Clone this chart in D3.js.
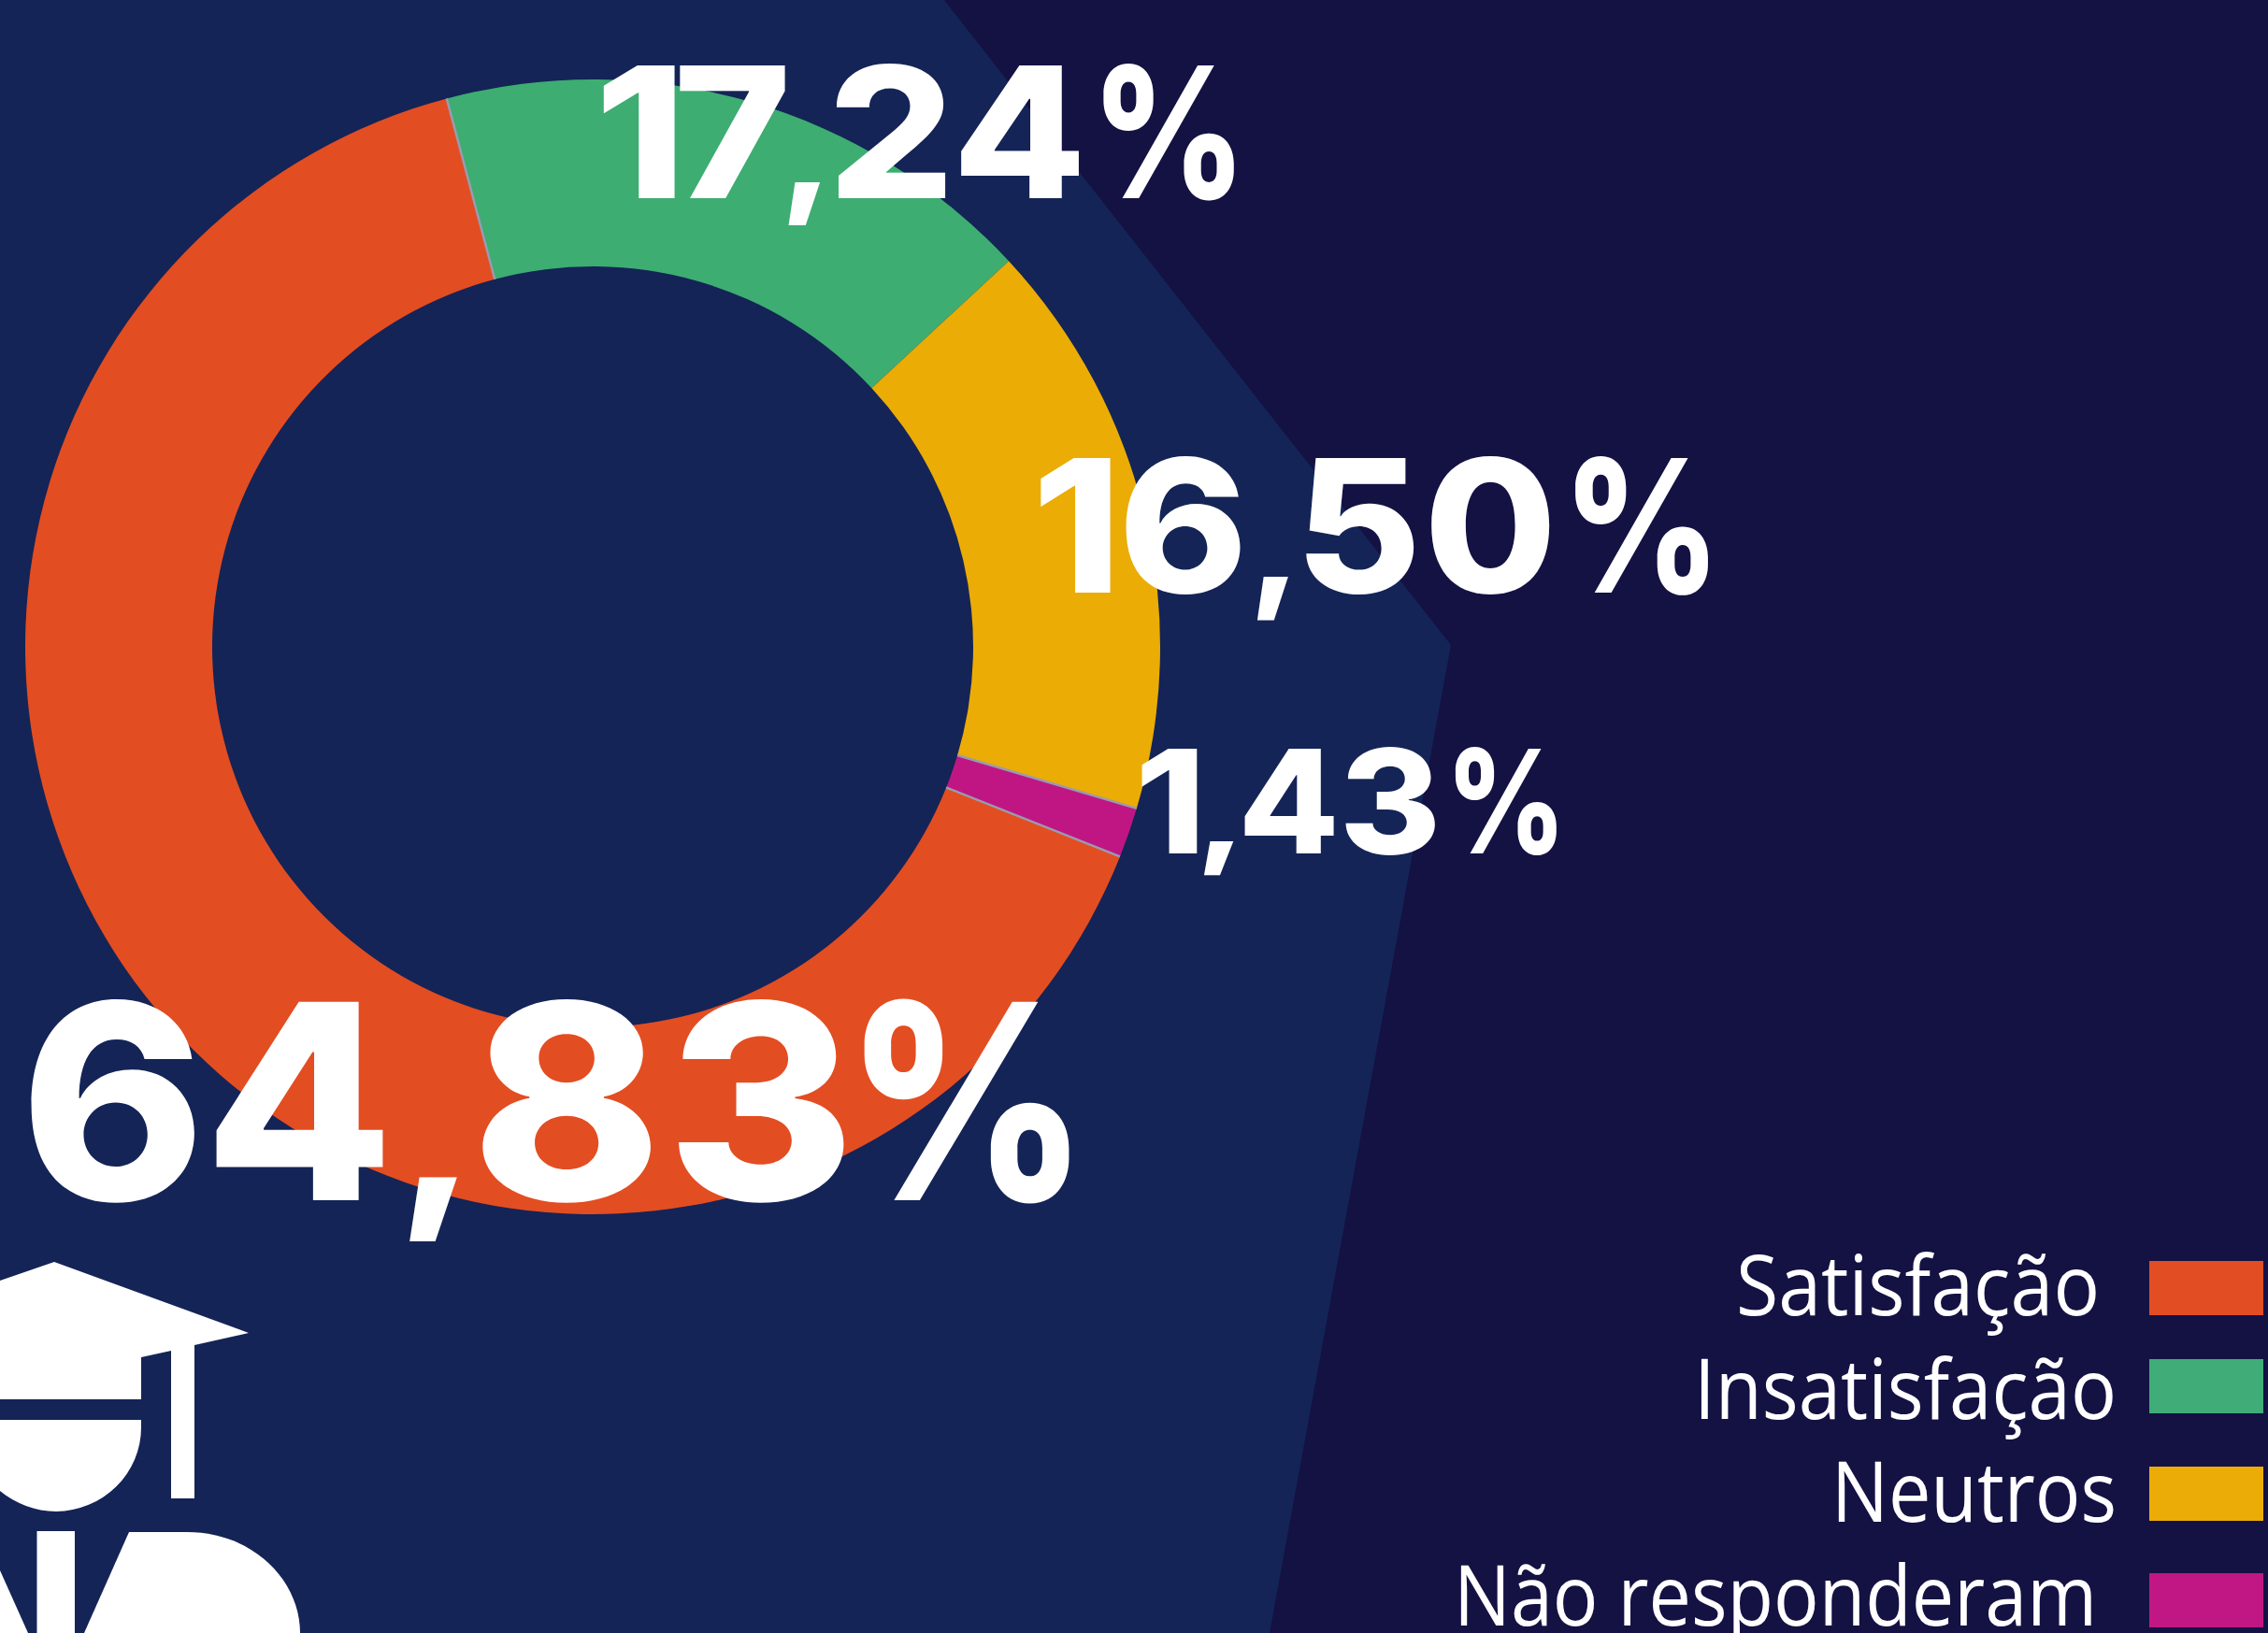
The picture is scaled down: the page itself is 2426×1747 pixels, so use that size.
<!DOCTYPE html>
<html lang="pt"><head><meta charset="utf-8">
<style>html,body{margin:0;padding:0;background:#141143;overflow:hidden}svg{display:block}</style>
<script src="https://cdn.jsdelivr.net/npm/d3@7"></script></head><body>
<script>
const categories = ["Satisfação","Insatisfação","Neutros","Não responderam"];
const values = [64.83,17.24,16.50,1.43];
const valueLabels = ["64,83%","17,24%","16,50%","1,43%"];
const colors = ["#E34D22","#3DAD72","#EBAC06","#C01684"];
const legendColors = ["#E24D24","#40AC78","#EBAC08","#C01784"];

const W=2426,H=1747;
const svg=d3.select("body").append("svg").attr("width",W).attr("height",H).attr("viewBox",`0 0 ${W} ${H}`);
svg.append("rect").attr("width",W).attr("height",H).attr("fill","#141143");
svg.append("path").attr("d","M0,0L1010,0L1552,690L1358,1747L0,1747Z").attr("fill","#142456");

const cx=634,cy=692,R=607,r=407;
const rad=d=>d*Math.PI/180;
const start=111.7;
const pie=d3.pie().sort(null).startAngle(rad(start)).endAngle(rad(start+360));
const arc=d3.arc().innerRadius(r).outerRadius(R);
const ring=svg.append("g").attr("transform",`translate(${cx},${cy})`);
const arcs=pie(values);
ring.selectAll("path").data(arcs).join("path").attr("d",arc).attr("fill",(d,i)=>colors[i]);
ring.selectAll("line").data(arcs.filter((d,i)=>i!==2)).join("line")
  .attr("x1",d=>r*Math.sin(d.startAngle)).attr("y1",d=>-r*Math.cos(d.startAngle))
  .attr("x2",d=>R*Math.sin(d.startAngle)).attr("y2",d=>-R*Math.cos(d.startAngle))
  .attr("stroke","#9a9bb0").attr("stroke-width",2.5);

// value labels: one text per label, one stretched tspan per glyph
const k=2426/1568;
const glyphSpans=[
  [[20,135],[147,266],[283,316],[332,450],[467,585],[597,740]],
  [[417,467],[470,543],[545,567],[578,654],[664,746],[763,853]],
  [[719,768],[778,858],[869,891],[903,978],[989,1071],[1089,1181]],
  [[789,828],[832,853],[860,922],[930,992],[1006,1076]]
];
const labelBase=[1284,212,634,913], labelCap=[212,142,144,112];
const ctx=document.createElement("canvas").getContext("2d");
const labelG=svg.append("g").attr("fill","#fff").attr("font-family","Inter").attr("font-weight",800);
valueLabels.forEach((label,i)=>{
  const t=labelG.append("text").attr("y",labelBase[i]);
  Array.from(label).forEach((ch,j)=>{
    const size=labelCap[i]/0.727*(ch===","?0.75:1);
    ctx.font=`800 ${size}px Inter`;
    const m=ctx.measureText(ch);
    const inkL=-m.actualBoundingBoxLeft, inkW=m.actualBoundingBoxRight+m.actualBoundingBoxLeft;
    const [a,b]=glyphSpans[i][j];
    const s=(b-a)*k/inkW;
    t.append("tspan").attr("x",a*k-inkL*s).attr("font-size",size)
      .attr("textLength",m.width*s).attr("lengthAdjust","spacingAndGlyphs").text(ch);
  });
});

// legend
const legendSwatchY=[1349,1454,1569,1683];
const legendText=[[1857,389,1407],[1812,452,1518],[1959,305,1628],[1555,688,1739]];
svg.selectAll("rect.sw").data(categories).join("rect").attr("class","sw")
  .attr("x",2299).attr("width",122).attr("y",(d,i)=>legendSwatchY[i]).attr("height",58)
  .attr("fill",(d,i)=>legendColors[i]);
svg.selectAll("text.leg").data(categories).join("text").attr("class","leg")
  .attr("x",(d,i)=>legendText[i][0]).attr("y",(d,i)=>legendText[i][2])
  .attr("font-family","Open Sans").attr("font-size",89).attr("fill","#fff")
  .attr("textLength",(d,i)=>legendText[i][1]).attr("lengthAdjust","spacingAndGlyphs").text(d=>d);

// graduate icon
const icon=svg.append("g").attr("fill","#fff");
icon.append("path").attr("d","M0,1370L58,1350L266,1426L208,1439L208,1603L183,1603L183,1445L151,1452L151,1497L0,1497Z");
icon.append("path").attr("d","M0,1519L151,1519L151,1527A92,90 0 0 1 60,1617C38,1617 16,1608 0,1595Z");
icon.append("rect").attr("x",39.5).attr("y",1638).attr("width",40.5).attr("height",109);
icon.append("path").attr("d","M138,1639L200,1639C270,1639 321,1690 321,1747L90,1747Z");
icon.append("path").attr("d","M0,1680L30,1747L0,1747Z");
</script></body></html>
